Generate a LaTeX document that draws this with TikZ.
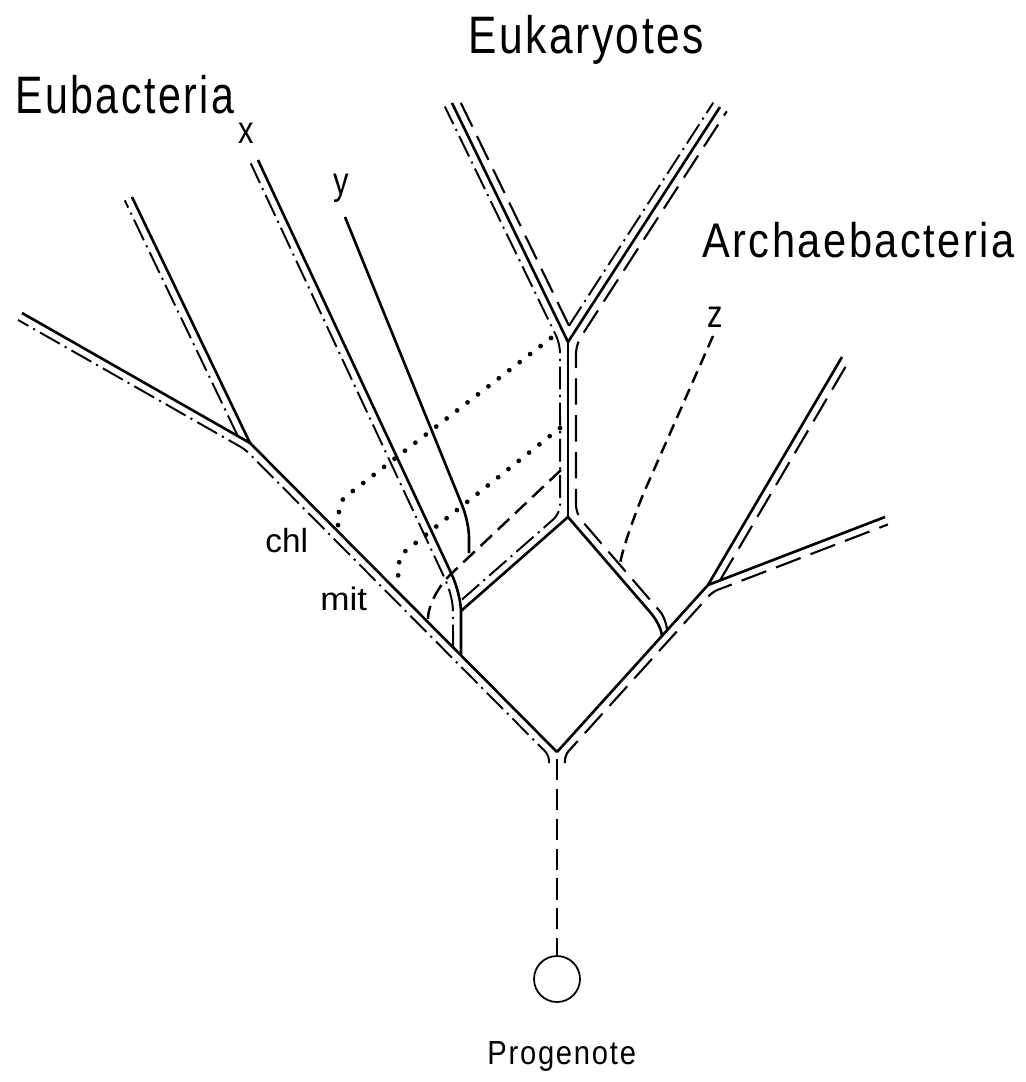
\documentclass[tikz,border=0pt]{standalone}
\usepackage{fontspec}
\setmainfont{Liberation Sans}
\usepackage{graphicx}
\usetikzlibrary{calc}
\def\offd{0.16cm}
\begin{document}
\begin{tikzpicture}[x=0.02cm,y=-0.02cm,
  solidline/.style={line width=1.5pt},
  dashdotline/.style={line width=1.1pt, dash pattern=on 13pt off 3.2pt on 1.2pt off 3.2pt},
  dashline/.style={line width=1.2pt, dash pattern=on 15pt off 6pt},
  rootdash/.style={line width=1.3pt, dash pattern=on 12pt off 5pt},
  zdash/.style={line width=1.4pt, dash pattern=on 7pt off 4pt},
  mdash/.style={line width=1.4pt, dash pattern=on 9pt off 4.5pt},
  chldots/.style={line width=2.7pt, line cap=round, dash pattern=on 0pt off 7.5pt},
  lbl/.style={inner sep=0pt, text=black}]
\useasboundingbox (0,0) rectangle (1025,1082);

% key coordinates
\coordinate (R) at (557,752);
\coordinate (Pb) at (250,443);
\coordinate (P0) at (22,313);
\coordinate (Q0) at (132,197);
\coordinate (X0) at (258,160);
\coordinate (Xb) at (452,575);
\coordinate (Y0) at (345,217);
\coordinate (K) at (568,342);
\coordinate (KL) at (452,103);
\coordinate (KR) at (720,107);
\coordinate (C) at (568,517);
\coordinate (Ce) at (650,612);
\coordinate (Ab) at (708,585);
\coordinate (AU) at (842,357);
\coordinate (AL) at (885,517);
\coordinate (Jxe) at (461,611);
% helper verticals
\coordinate (v549a) at (549,700); \coordinate (v549b) at (549,800);
\coordinate (v565a) at (565,700); \coordinate (v565b) at (565,800);
\coordinate (v461a) at (461,500); \coordinate (v461b) at (461,700);
\coordinate (v453a) at (453,500); \coordinate (v453b) at (453,700);
\coordinate (v462a) at (462,500); \coordinate (v462b) at (462,700);
\coordinate (v662a) at (662,500); \coordinate (v662b) at (662,700);

\coordinate (Jx) at (intersection of v461a--v461b and Pb--R);
\coordinate (Jxd) at (intersection of v453a--v453b and Pb--R);
\coordinate (Jr) at (intersection of v662a--v662b and R--Ab);

% offsets
\coordinate (e1s) at ($(R)!\offd!90:(Pb)$);
\coordinate (e1e) at ($(Pb)!\offd!-90:(R)$);
\coordinate (e2s) at ($(Pb)!\offd!90:(P0)$);
\coordinate (e2e) at ($(P0)!\offd!-90:(Pb)$);
\coordinate (b1s) at ($(Pb)!\offd!90:(Q0)$);
\coordinate (b1e) at ($(Q0)!\offd!-90:(Pb)$);
\coordinate (x1s) at ($(Xb)!\offd!90:(X0)$);
\coordinate (x1e) at ($(X0)!\offd!-90:(Xb)$);
\coordinate (s1s) at ($(C)!\offd!90:(K)$);
\coordinate (s1e) at ($(K)!\offd!-90:(C)$);
\coordinate (s2s) at ($(C)!\offd!-90:(K)$);
\coordinate (s2e) at ($(K)!\offd!90:(C)$);
\coordinate (l1s) at ($(K)!\offd!90:(KL)$);
\coordinate (l1e) at ($(KL)!\offd!-90:(K)$);
\coordinate (l2s) at ($(K)!\offd!-90:(KL)$);
\coordinate (l2e) at ($(KL)!\offd!90:(K)$);
\coordinate (r1s) at ($(K)!\offd!90:(KR)$);
\coordinate (r1e) at ($(KR)!\offd!-90:(K)$);
\coordinate (r2s) at ($(K)!\offd!-90:(KR)$);
\coordinate (r2e) at ($(KR)!\offd!90:(K)$);
\coordinate (g1s) at ($(Jxe)!\offd!90:(C)$);
\coordinate (g1e) at ($(C)!\offd!-90:(Jxe)$);
\coordinate (h1s) at ($(Ce)!\offd!-90:(C)$);
\coordinate (h1e) at ($(C)!\offd!90:(Ce)$);
\coordinate (a1s) at ($(R)!\offd!-90:(Ab)$);
\coordinate (a1e) at ($(Ab)!\offd!90:(R)$);
\coordinate (a2s) at ($(Ab)!\offd!-90:(AL)$);
\coordinate (a2e) at ($(AL)!\offd!90:(Ab)$);
\coordinate (a3s) at ($(Ab)!\offd!-90:(AU)$);
\coordinate (a3e) at ($(AU)!\offd!90:(Ab)$);

% joins
\coordinate (eR) at (intersection of e1s--e1e and v549a--v549b);
\coordinate (eC) at (intersection of e1s--e1e and e2s--e2e);
\coordinate (bS) at (intersection of b1s--b1e and P0--Pb);
\coordinate (gE) at (intersection of g1s--g1e and v462a--v462b);
\coordinate (gC) at (intersection of g1s--g1e and s1s--s1e);
\coordinate (sK) at (intersection of s1s--s1e and l1s--l1e);
\coordinate (crotch) at (intersection of l2s--l2e and r1s--r1e);
\coordinate (hC) at (intersection of h1s--h1e and s2s--s2e);
\coordinate (sKr) at (intersection of s2s--s2e and r2s--r2e);
\coordinate (aR) at (intersection of a1s--a1e and v565a--v565b);
\coordinate (aC) at (intersection of a1s--a1e and a2s--a2e);
\coordinate (aU) at (intersection of a3s--a3e and Ab--AL);

% Eubacteria
\draw[solidline] (P0) -- (Pb) -- (R);
\draw[solidline] (Pb) -- (Q0);
\draw[dashdotline, rounded corners=3pt] (549,763) -- (eR) -- (eC) -- (e2e);
\draw[dashdotline] (bS) -- (b1e);
% x lineage
\draw[solidline] (X0) -- (Xb) .. controls +(5,11) and +(0,-10) .. (461,612) -- (Jx);
\draw[dashdotline] (Jxd) -- (453,612) .. controls +(0,-10) and +(5,11) .. (x1s) -- (x1e);
% y lineage
\draw[solidline] (Y0) -- (462,505) .. controls +(4,10) and +(0,-10) .. (469,538) -- (469,553);
% mitochondria dashed
\draw[mdash] (561,470) -- (452,573) .. controls +(-13,12) and +(0,-14) .. (428,619);
% chloroplast dotted
\draw[chldots] (551,338) -- (345,497) .. controls +(-6,5) and +(0,-12) .. (338,528);
\draw[chldots] (560,428) -- (403,553) .. controls +(-5,4) and +(0,-14) .. (398,588);

% Eukaryotes
\draw[solidline] (KL) -- (K) -- (KR);
\draw[solidline] (K) -- (C);
\draw[dashdotline, rounded corners=5pt] (gE) -- (gC) -- (sK) -- (l1e);
\draw[dashdotline] (crotch) -- (r1e);
\draw[dashline] (crotch) -- (l2e);
\draw[dashline, rounded corners=5pt] (667,631) .. controls +(0,-9) and +(5,6) .. (h1s) -- (hC) -- (sKr) -- (r2e);
% diamond edges
\draw[solidline] (C) -- (Jxe);
\draw[solidline] (C) -- (Ce) .. controls +(5,6) and +(-1,-9) .. (Jr);

% Archaebacteria
\draw[solidline] (R) -- (Ab) -- (AU);
\draw[solidline] (Ab) -- (AL);
\draw[dashline, rounded corners=3pt] (565,763) -- (aR) -- (aC) -- (a2e);
\draw[dashline] (aU) -- (a3e);
% z
\draw[zdash] (713,336) -- (645,490) .. controls +(-7,16) and +(0,-12) .. (620,566);

% root
\node[draw, circle, minimum size=0.92cm, inner sep=0pt, line width=1pt] (prog) at (557,979) {};
\draw[rootdash] ($(R)+(0,7)$) -- (prog.north);

% labels
\node[lbl, anchor=base west] (teub) at (15,113) {\fontsize{30}{36}\selectfont\addfontfeatures{LetterSpace=6}\scalebox{0.78}[1]{Eubacteria}};
\node[lbl, anchor=base west] (teuk) at (468,53) {\fontsize{30}{36}\selectfont\addfontfeatures{LetterSpace=6}\scalebox{0.807}[1]{Eukaryotes}};
\node[lbl, anchor=base west] (tarc) at (702,257) {\fontsize{27.7}{33}\selectfont\addfontfeatures{LetterSpace=6}\scalebox{0.855}[1]{Archaebacteria}};
\node[lbl, anchor=base] (tx) at (246,143) {\fontsize{22}{26}\selectfont\scalebox{0.8}[1]{x}};
\node[lbl, anchor=base] (ty) at (341,194) {\fontsize{22}{26}\selectfont\scalebox{0.8}[1]{y}};
\node[lbl, anchor=base] (tz) at (715,327) {\fontsize{22}{26}\selectfont\scalebox{0.8}[1]{z}};
\node[lbl, anchor=base west] (tchl) at (265,552) {\fontsize{19}{23}\selectfont chl};
\node[lbl, anchor=base west] (tmit) at (320,610) {\fontsize{18.5}{22}\selectfont\scalebox{1.08}[1]{mit}};
\node[lbl, anchor=base west] (tprog) at (487,1064) {\fontsize{19}{23}\selectfont\addfontfeatures{LetterSpace=6}\scalebox{0.874}[1]{Progenote}};
\end{tikzpicture}
\end{document}
